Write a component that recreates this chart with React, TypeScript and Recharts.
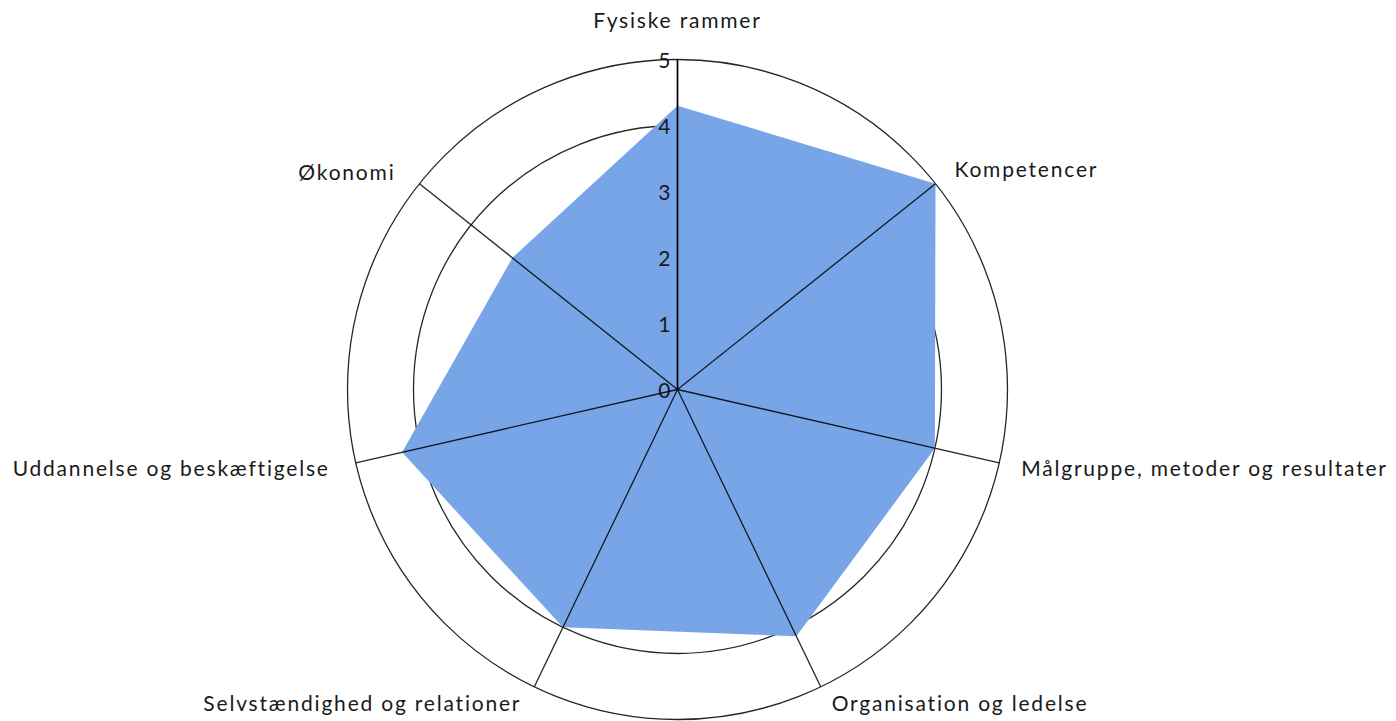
import React from 'react';
import { RadarChart, Radar, PolarGrid, PolarAngleAxis, PolarRadiusAxis } from 'recharts';

const CATEGORIES = [
  'Fysiske rammer',
  'Kompetencer',
  'Målgruppe, metoder og resultater',
  'Organisation og ledelse',
  'Selvstændighed og relationer',
  'Uddannelse og beskæftigelse',
  'Økonomi',
];
const SCORES = [4.3, 5.0, 4.0, 4.15, 4.0, 4.28, 3.2];
const RADIUS_TICKS = [0, 1, 2, 3, 4, 5];

const data = CATEGORIES.map((name, i) => ({ name, score: SCORES[i] }));

const CX = 677.5;
const CY = 389.5;
const R = 330;
const FONT = 'Lato, "Open Sans", sans-serif';

// label offsets from the spoke end, [dx, dy, anchor]
const LABEL_POS: [number, number, 'start' | 'middle' | 'end'][] = [
  [0, -40, 'middle'],
  [19, -15, 'start'],
  [22, 5, 'start'],
  [11, 16, 'start'],
  [-13, 16, 'end'],
  [-26, 5, 'end'],
  [-24, -12, 'end'],
];

const AngleTick = (props: any) => {
  const { payload, index } = props;
  const ang = (payload.coordinate * Math.PI) / 180;
  const ex = CX + R * Math.cos(ang);
  const ey = CY - R * Math.sin(ang);
  const [dx, dy, anchor] = LABEL_POS[index] || [0, 0, 'middle'];
  return (
    <text x={ex + dx} y={ey + dy} textAnchor={anchor} dominantBaseline="central"
      fontFamily={FONT} fontSize={21} letterSpacing={1.8} fill="#1a1a1a">
      {payload.value}
    </text>
  );
};

const RadiusTick = (props: any) => {
  const { x, y, payload } = props;
  return (
    <text x={x - 7} y={y} textAnchor="end" dominantBaseline="central"
      fontFamily={FONT} fontSize={21} fill="#1a1a1a">
      {payload.value}
    </text>
  );
};

export default function App() {
  return (
    <div style={{ position: 'absolute', left: 0, top: 0, background: '#fff' }}>
      <RadarChart width={1396} height={721} data={data} cx={CX} cy={CY} outerRadius={R}
        margin={{ top: 0, right: 0, bottom: 0, left: 0 }}>
        <PolarGrid gridType="circle" radialLines={false} stroke="#000" strokeWidth={1.3} strokeOpacity={0.85} />
        <Radar dataKey="score" fill="#78a5e8" fillOpacity={1} stroke="none" isAnimationActive={false} />
        <PolarGrid {...({ zIndex: 700 } as any)} gridType="circle" polarRadius={[]} stroke="#000" strokeWidth={1.3} strokeOpacity={0.85} />
        <PolarAngleAxis dataKey="name" tick={AngleTick} axisLine={false} tickLine={false} />
        <PolarRadiusAxis angle={90} domain={[0, 5]} ticks={RADIUS_TICKS as any} tickCount={6}
          axisLine={{ stroke: '#000', strokeWidth: 1.5 }} tickLine={false} tick={RadiusTick} />
      </RadarChart>
    </div>
  );
}
